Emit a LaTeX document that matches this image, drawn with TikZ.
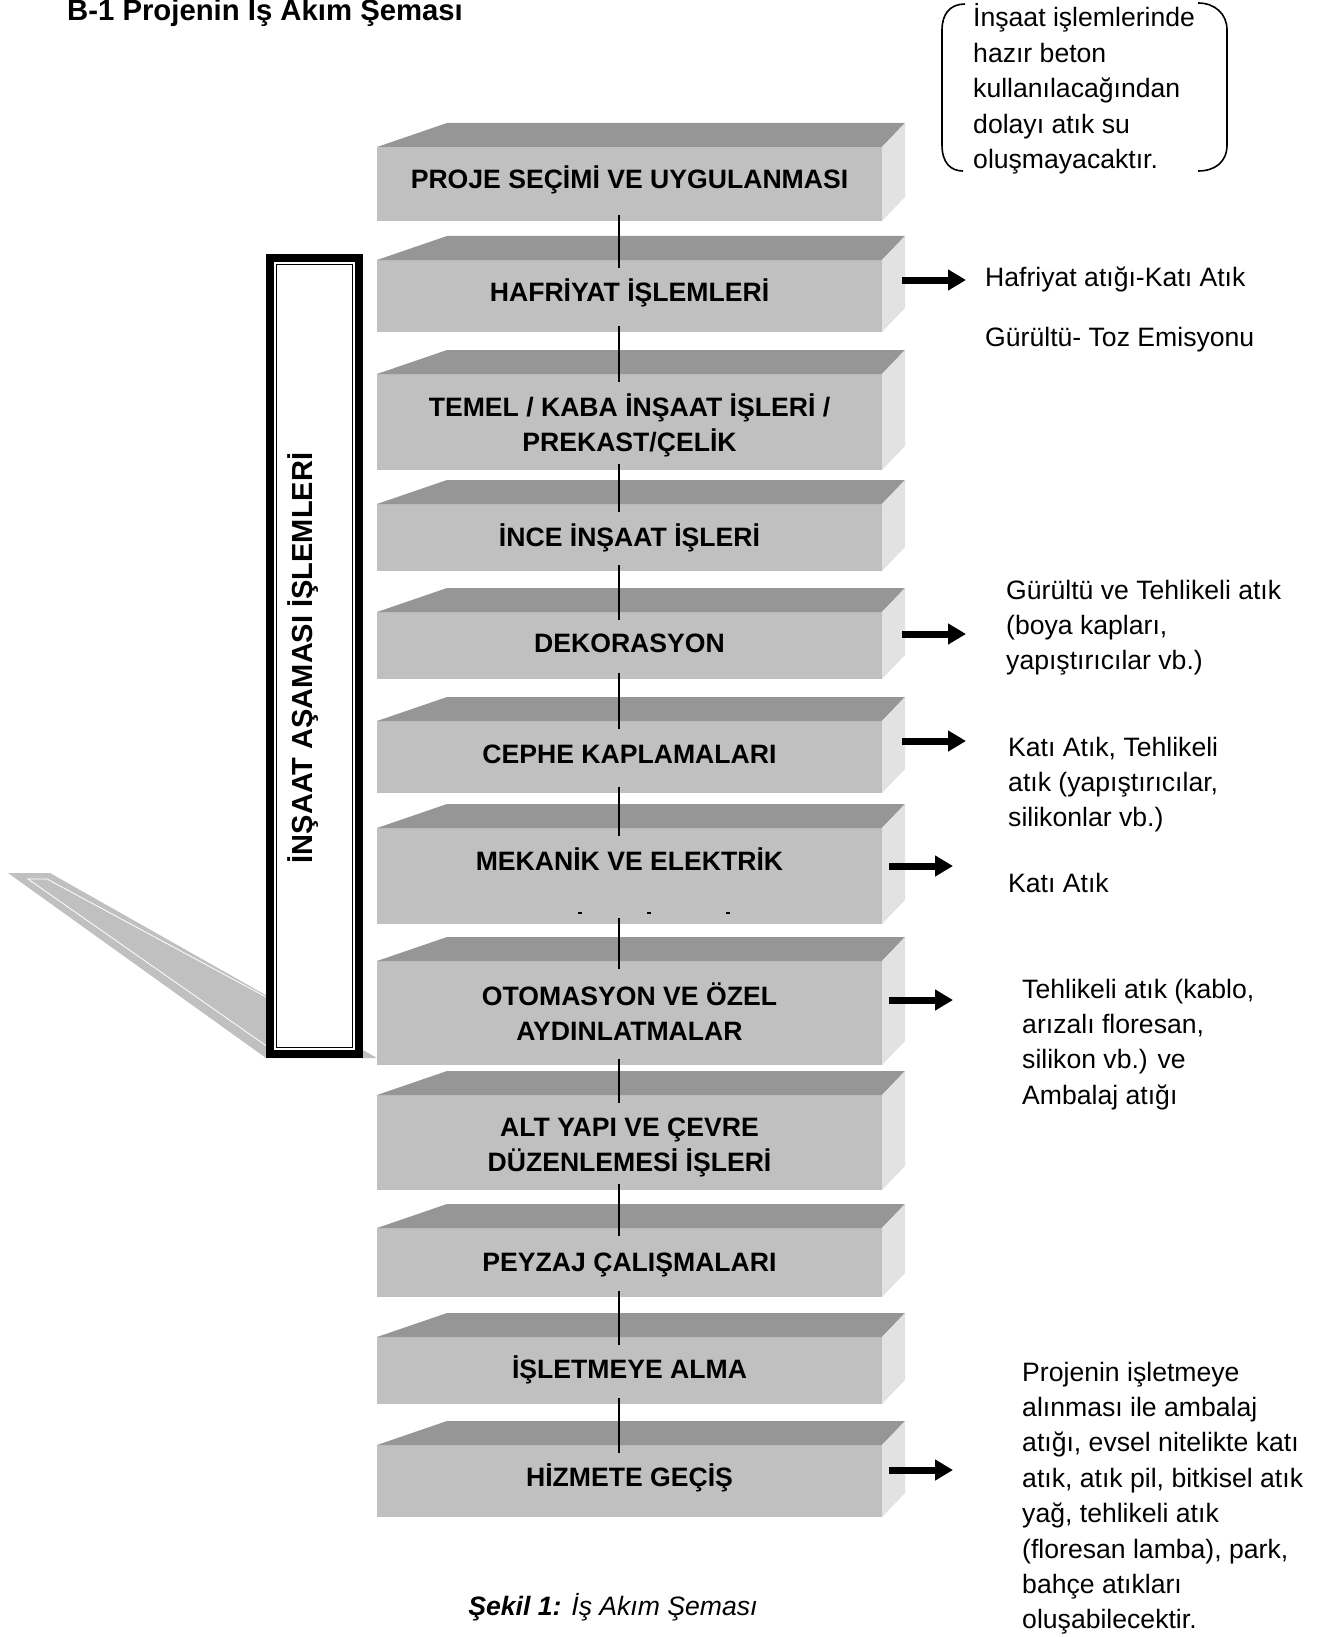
\documentclass[tikz,border=0pt]{standalone}
\usepackage{fontspec}
\setmainfont{Liberation Sans}
\usetikzlibrary{arrows.meta}
\definecolor{facegray}{HTML}{C0C0C0}
\definecolor{topgray}{HTML}{969696}
\definecolor{sidegray}{HTML}{E2E2E2}
\definecolor{wedgegray}{HTML}{C0C0C0}
\newcommand\mlines[2]{\begin{tabular}[t]{@{}#1@{}}#2\end{tabular}}
\tikzset{
 face/.style={fill=facegray, minimum width=505pt, inner sep=0pt, outer sep=0pt},
 lbl/.style={font=\fontsize{26.6}{35.0}\selectfont\bfseries, inner sep=0pt, anchor=base},
 note/.style={font=\fontsize{26.6}{35.4}\selectfont, inner sep=0pt, anchor=base west},
 conn/.style={line width=1.3pt},
 fatarrow/.style={line width=7pt, -{Triangle[length=18pt,width=20pt]}},
}
\newcommand\stepblock[3]{%
  \node[face, minimum height={#3-#2}] (#1) at (629.5,{(#2+#3)/2}) {};
  \fill[topgray] (#1.north west) -- ++(70,-24) -- ++(458,0) -- (#1.north east) -- cycle;
  \fill[sidegray] (#1.north east) -- ++(23,-24) -- ([shift={(23,-24)}]#1.south east) -- (#1.south east) -- cycle;
}
\begin{document}
\begin{tikzpicture}[x=1pt,y=-1pt]
\useasboundingbox (0,0) rectangle (1332,1637);

% title
\node[font=\fontsize{29.3}{34}\selectfont\bfseries, inner sep=0pt, anchor=base west] (title) at (67,21) {B-1 Projenin İş Akım Şeması};

% wedge behind phase box
\fill[wedgegray] (8,873) -- (50,873) -- (377,1058) -- (266,1058) -- cycle;
\draw[white, line width=0.8pt] (268,998) -- (47,879) -- (28,879) -- (268,1047);

% phase box
\node[draw, line width=8pt, fill=white, minimum width=89pt, minimum height=796pt, inner sep=0pt, outer sep=0pt] (phase) at (314.5,656) {};
\draw[line width=1.5pt] ([shift={(6.5,6.5)}]phase.north west) rectangle ([shift={(-6.5,-6.5)}]phase.south east);
\node[font=\fontsize{29}{35}\selectfont\bfseries, rotate=90, anchor=base, inner sep=0pt] (phaselbl) at (312,658) {İNŞAAT AŞAMASI İŞLEMLERİ};

% blocks
\stepblock{b1}{147}{221}
\stepblock{b2}{260}{332}
\stepblock{b3}{374}{470}
\stepblock{b4}{504}{571}
\stepblock{b5}{612}{679}
\stepblock{b6}{721}{793}
\stepblock{b7}{828}{924}
\stepblock{b8}{961}{1065}
\stepblock{b9}{1095}{1190}
\stepblock{b10}{1228}{1297}
\stepblock{b11}{1337}{1404}
\stepblock{b12}{1445}{1517}

% labels
\node[lbl] (l1) at (629.5,189) {PROJE SEÇİMİ VE UYGULANMASI};
\node[lbl] (l2) at (629.5,301) {HAFRİYAT İŞLEMLERİ};
\node[lbl] (l3) at (629.5,416) {\mlines{c}{TEMEL / KABA İNŞAAT İŞLERİ /\\PREKAST/ÇELİK}};
\node[lbl] (l4) at (629.5,546) {İNCE İNŞAAT İŞLERİ};
\node[lbl] (l5) at (629.5,652) {DEKORASYON};
\node[lbl] (l6) at (629.5,763) {CEPHE KAPLAMALARI};
\node[lbl] (l7) at (629.5,870) {MEKANİK VE ELEKTRİK};
\node[lbl] (l8) at (629.5,1005) {\mlines{c}{OTOMASYON VE ÖZEL\\AYDINLATMALAR}};
\node[lbl] (l9) at (629.5,1136) {\mlines{c}{ALT YAPI VE ÇEVRE\\DÜZENLEMESİ İŞLERİ}};
\node[lbl] (l10) at (629.5,1271) {PEYZAJ ÇALIŞMALARI};
\node[lbl] (l11) at (629.5,1378) {İŞLETMEYE ALMA};
\node[lbl] (l12) at (629.5,1486) {HİZMETE GEÇİŞ};

% small dashes in MEKANIK block
\foreach \dx in {580,649,728} \draw[line width=1.5pt] (\dx-2,913) -- (\dx+2,913);

% connectors
\foreach \a/\b in {b1/b2,b2/b3,b3/b4,b4/b5,b5/b6,b6/b7,b7/b8,b8/b9,b9/b10,b10/b11,b11/b12}
  \draw[conn] ([xshift=-10.5pt,yshift=6pt]\a.south) -- ([xshift=-10.5pt,yshift=-8pt]\b.north);

% arrows
\coordinate (a2s) at (902,280);  \coordinate (a2e) at (966,280);
\coordinate (a5s) at (902,634);  \coordinate (a5e) at (966,634);
\coordinate (a6s) at (902,741);  \coordinate (a6e) at (966,741);
\coordinate (a7s) at (889,866);  \coordinate (a7e) at (953,866);
\coordinate (a8s) at (889,1000); \coordinate (a8e) at (953,1000);
\coordinate (a12s) at (889,1470); \coordinate (a12e) at (953,1470);
\foreach \n in {2,5,6,7,8,12} \draw[fatarrow] (a\n s) -- (a\n e);

% right notes
\node[note] (n2a) at (985,286) {Hafriyat atığı-Katı Atık};
\node[note] (n2b) at (985,346) {Gürültü- Toz Emisyonu};
\node[note] (n5) at (1006,599) {\mlines{l}{Gürültü ve Tehlikeli atık\\(boya kapları,\\yapıştırıcılar vb.)}};
\node[note] (n6) at (1008,756) {\mlines{l}{Katı Atık, Tehlikeli\\atık (yapıştırıcılar,\\silikonlar vb.)}};
\node[note] (n7) at (1008,892) {Katı Atık};
\node[note] (n8) at (1022,998) {\mlines{l}{Tehlikeli atık (kablo,\\arızalı floresan,\\silikon vb.) ve\\Ambalaj atığı}};
\node[note] (n12) at (1022,1381) {\mlines{l}{Projenin işletmeye\\alınması ile ambalaj\\atığı, evsel nitelikte katı\\atık, atık pil, bitkisel atık\\yağ, tehlikeli atık\\(floresan lamba), park,\\bahçe atıkları\\oluşabilecektir.}};

% callout top right
\node[note] (beton) at (973,27) {\mlines{l}{İnşaat işlemlerinde\\hazır beton\\kullanılacağından\\dolayı atık su\\oluşmayacaktır.}};
\draw[line width=1.6pt] (965,4) .. controls (950,4) and (942,14) .. (942,30) -- (942,145) .. controls (942,162) and (950,171) .. (963,171);
\draw[line width=1.6pt] (1198,3) .. controls (1215,3) and (1227,14) .. (1227,30) -- (1227,145) .. controls (1227,162) and (1215,171) .. (1198,171);

% caption
\node[font=\fontsize{26.6}{32}\selectfont, inner sep=0pt, anchor=base] (cap) at (613,1615) {\textbf{\textit{Şekil 1:}} \textit{İş Akım Şeması}};
\end{tikzpicture}
\end{document}
